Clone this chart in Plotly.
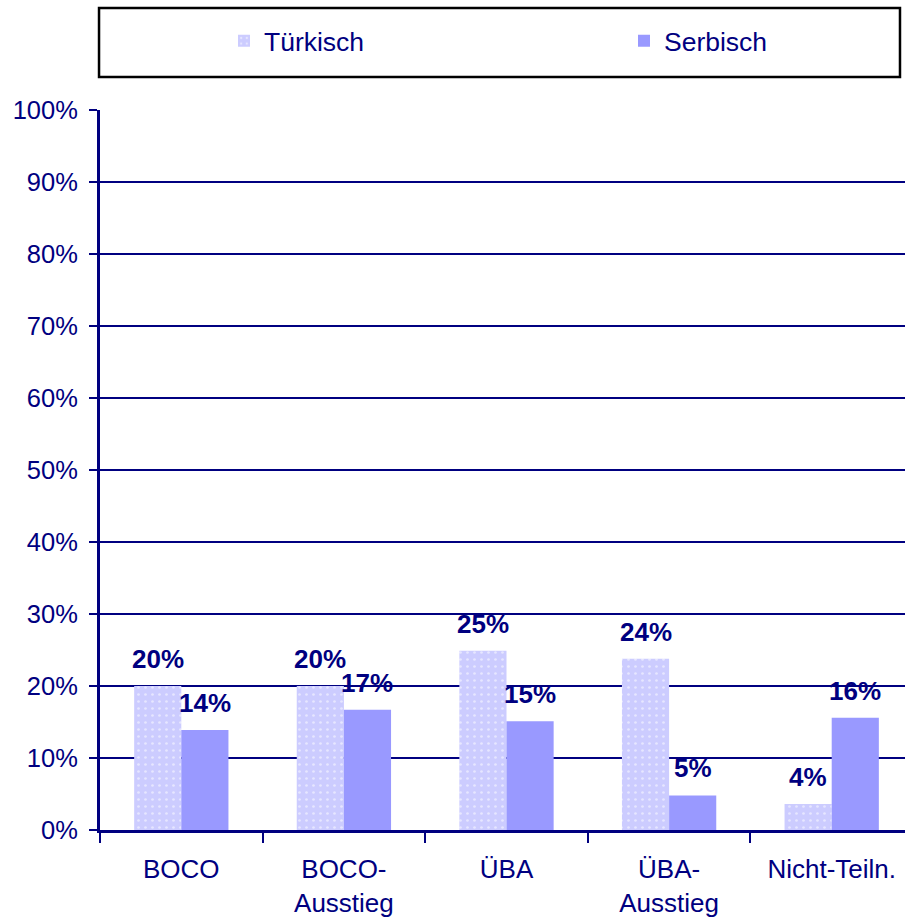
import plotly.graph_objects as go

categories = ["BOCO", "BOCO-<br>Ausstieg", "ÜBA", "ÜBA-<br>Ausstieg", "Nicht-Teiln."]
tuerkisch = [20.0, 20.0, 24.9, 23.8, 3.6]
serbisch = [13.9, 16.7, 15.1, 4.8, 15.6]
series_names = ["Türkisch", "Serbisch"]
y_ticks = [0, 10, 20, 30, 40, 50, 60, 70, 80, 90, 100]
y_tick_labels = [f"{v}%" for v in y_ticks]

NAVY = "#000080"
FONT = "Liberation Sans, Arial, sans-serif"

fig = go.Figure()
fig.add_trace(go.Bar(
    x=categories, y=tuerkisch, name=series_names[0], legend="legend",
    marker=dict(color="#CCCCFF", line=dict(width=0),
                pattern=dict(shape=".", fgcolor="white", bgcolor="#CCCCFF",
                             size=7, solidity=0.12)),
))
fig.add_trace(go.Bar(
    x=categories, y=serbisch, name=series_names[1], legend="legend2",
    marker=dict(color="#9999FF", line=dict(width=0)),
))

annotations = []
for vals, shift in ((tuerkisch, -23.5), (serbisch, 23.5)):
    for c, v in zip(categories, vals):
        annotations.append(dict(
            x=c, y=v, xref="x", yref="y", text=f"<b>{round(v)}%</b>",
            showarrow=False, xshift=shift, yshift=27, yanchor="middle",
            font=dict(family=FONT, size=26, color=NAVY),
        ))

legend_common = dict(
    orientation="h", xanchor="left", y=1.0958, yanchor="middle",
    font=dict(family=FONT, size=26.5, color=NAVY),
    bgcolor="rgba(0,0,0,0)", borderwidth=0,
)

fig.update_layout(
    width=913, height=917,
    margin=dict(l=100, r=0, t=110, b=87),
    paper_bgcolor="white", plot_bgcolor="white",
    barmode="group", bargap=0.42, bargroupgap=0,
    font=dict(family=FONT, size=25, color=NAVY),
    showlegend=True,
    legend=dict(x=0.1525, **legend_common),
    legend2=dict(x=0.6445, **legend_common),
    annotations=annotations,
    shapes=[dict(type="rect", xref="paper", yref="paper",
                 x0=-0.0012, x1=0.984, y0=1.0458, y1=1.1417,
                 line=dict(color="black", width=2.5), fillcolor="rgba(0,0,0,0)")],
    xaxis=dict(
        type="category", tickson="boundaries", ticks="outside", ticklen=10,
        tickwidth=2, tickcolor=NAVY, showgrid=False,
        showline=True, linecolor=NAVY, linewidth=3,
        tickfont=dict(family=FONT, size=26, color=NAVY),
        ticklabelstandoff=14,
    ),
    yaxis=dict(
        range=[0, 100], tickmode="array", tickvals=y_ticks, ticktext=y_tick_labels,
        ticks="outside", ticklen=8, tickwidth=2, tickcolor=NAVY,
        showgrid=True, gridcolor=NAVY, gridwidth=2,
        showline=True, linecolor=NAVY, linewidth=3, zeroline=False,
        tickfont=dict(family=FONT, size=25.5, color=NAVY),
        ticklabelstandoff=6,
    ),
)

fig.write_html(
    "out.html",
    config={"displayModeBar": False},
    post_script="document.body.style.margin='0';document.body.style.overflow='hidden';",
)
